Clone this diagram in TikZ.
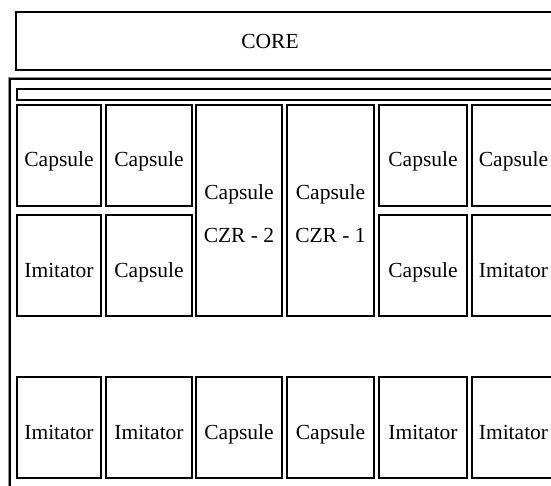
\documentclass[tikz,border=0pt]{standalone}
\usepackage{fontspec}
\setmainfont{Liberation Serif}
\begin{document}
\begin{tikzpicture}[x=1pt,y=-1pt,
  cellbox/.style={draw=black, line width=1.3pt, inner sep=0pt, outer sep=0pt,
    font=\fontsize{21.5}{26}\selectfont, text height=23pt, text depth=0pt},
  framerule/.style={draw=black, line width=2pt},
  shadowrule/.style={draw=black!45, line width=0.8pt},
  txt/.style={font=\fontsize{21.5}{26}\selectfont, inner sep=0pt, anchor=base}]
\useasboundingbox (0,0) rectangle (551,486);
\clip (0,0) rectangle (551,486);
% CORE box
\node[cellbox, minimum width=544pt, minimum height=58pt, anchor=north west] (corebox) at (16,12) {};
\node[txt] (corelabel) at (270,49) {CORE};
% outer frame
\coordinate (ftl) at (10,79);
\coordinate (ftr) at (560,79);
\coordinate (fbl) at (10,490);
\coordinate (gtl) at (8,77.2);
\coordinate (gtr) at (560,77.2);
\coordinate (gbl) at (8,490);
\draw[shadowrule] (gbl) -- (gtl) -- (gtr);
\draw[framerule] (fbl) -- (ftl) -- (ftr);
% inner bar
\node[cellbox, minimum width=543pt, minimum height=11pt, anchor=north west, text height=0pt] (bar) at (17,89) {};
% row 1
\node[cellbox, minimum width=84pt, minimum height=101pt] (r1c1) at (59,155.5) {Capsule};
\node[cellbox, minimum width=86pt, minimum height=101pt] (r1c2) at (149,155.5) {Capsule};
\node[cellbox, minimum width=88pt, minimum height=101pt] (r1c5) at (423,155.5) {Capsule};
\node[cellbox, minimum width=83pt, minimum height=101pt] (r1c6) at (513.5,155.5) {Capsule};
% CZR columns
\node[cellbox, minimum width=86pt, minimum height=211pt, text height=0pt] (czr2) at (239,210.5) {};
\node[txt] (czr2a) at (239,200) {Capsule};
\node[txt] (czr2b) at (239,243) {CZR - 2};
\node[cellbox, minimum width=87pt, minimum height=211pt, text height=0pt] (czr1) at (330.5,210.5) {};
\node[txt] (czr1a) at (330.5,200) {Capsule};
\node[txt] (czr1b) at (330.5,243) {CZR - 1};
% row 2
\node[cellbox, minimum width=84pt, minimum height=101pt] (r2c1) at (59,265.5) {Imitator};
\node[cellbox, minimum width=86pt, minimum height=101pt] (r2c2) at (149,265.5) {Capsule};
\node[cellbox, minimum width=88pt, minimum height=101pt] (r2c5) at (423,265.5) {Capsule};
\node[cellbox, minimum width=83pt, minimum height=101pt] (r2c6) at (513.5,265.5) {Imitator};
% row 3
\node[cellbox, minimum width=84pt, minimum height=101pt] (r3c1) at (59,427.5) {Imitator};
\node[cellbox, minimum width=86pt, minimum height=101pt] (r3c2) at (149,427.5) {Imitator};
\node[cellbox, minimum width=86pt, minimum height=101pt] (r3c3) at (239,427.5) {Capsule};
\node[cellbox, minimum width=87pt, minimum height=101pt] (r3c4) at (330.5,427.5) {Capsule};
\node[cellbox, minimum width=88pt, minimum height=101pt] (r3c5) at (423,427.5) {Imitator};
\node[cellbox, minimum width=83pt, minimum height=101pt] (r3c6) at (513.5,427.5) {Imitator};
\end{tikzpicture}
\end{document}
